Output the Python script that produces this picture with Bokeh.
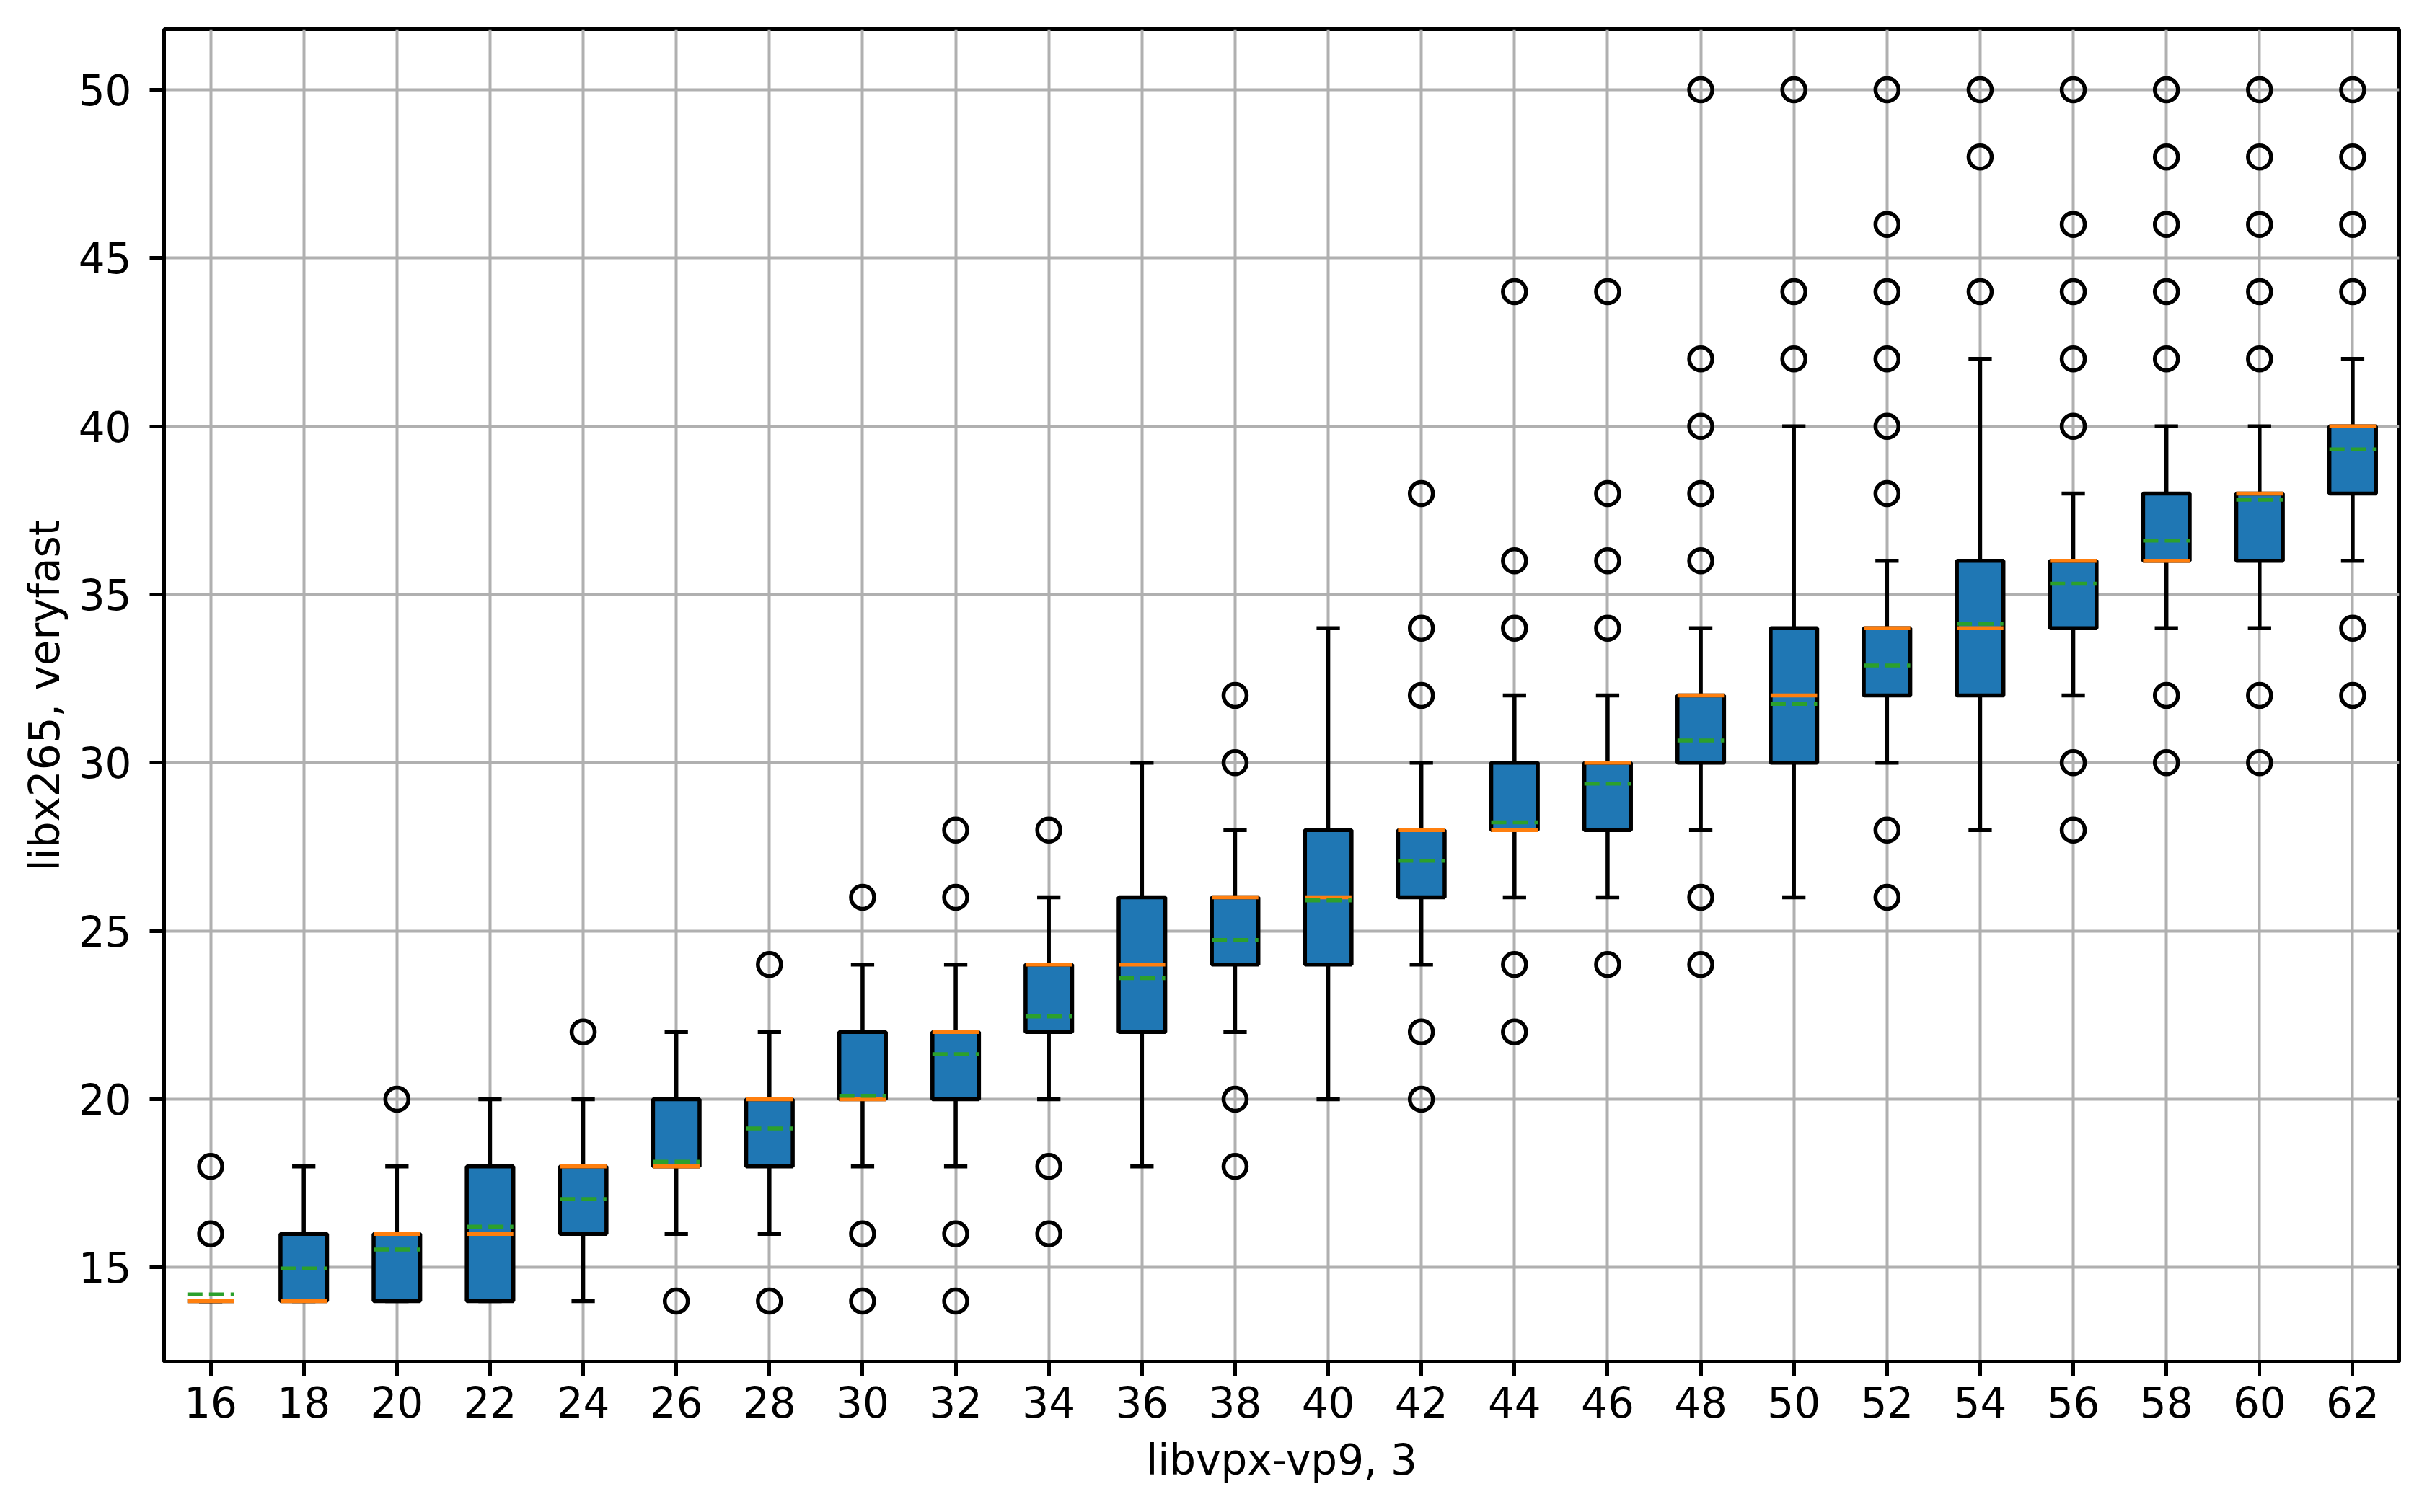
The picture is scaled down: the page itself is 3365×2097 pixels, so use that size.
from bokeh.plotting import figure
from bokeh.models import FixedTicker
from bokeh.embed import file_html
from bokeh.resources import INLINE

# ---- data ----
cats = [16, 18, 20, 22, 24, 26, 28, 30, 32, 34, 36, 38,
        40, 42, 44, 46, 48, 50, 52, 54, 56, 58, 60, 62]
q1 = [14, 14, 14, 14, 16, 18, 18, 20, 20, 22, 22, 24,
      24, 26, 28, 28, 30, 30, 32, 32, 34, 36, 36, 38]
medians = [14, 14, 16, 16, 18, 18, 20, 20, 22, 24, 24, 26,
           26, 28, 28, 30, 32, 32, 34, 34, 36, 36, 38, 40]
q3 = [14, 16, 16, 18, 18, 20, 20, 22, 22, 24, 26, 26,
      28, 28, 30, 30, 32, 34, 34, 36, 36, 38, 38, 40]
whisker_low = [14, 14, 14, 14, 14, 16, 16, 18, 18, 20, 18, 22,
               20, 24, 26, 26, 28, 26, 30, 28, 32, 34, 34, 36]
whisker_high = [14, 18, 18, 20, 20, 22, 22, 24, 24, 26, 30, 28,
                34, 30, 32, 32, 34, 40, 36, 42, 38, 40, 40, 42]
means = [14.2, 14.97, 15.53, 16.21, 17.03, 18.14, 19.13, 20.1, 21.34, 22.46, 23.6, 24.73,
         25.91, 27.09, 28.23, 29.38, 30.66, 31.75, 32.89, 34.13, 35.32, 36.6, 37.82, 39.31]
outliers = [
    [16, 18], [], [20], [], [22], [14], [14, 24], [14, 16, 26],
    [14, 16, 26, 28], [16, 18, 28], [], [18, 20, 30, 32],
    [], [20, 22, 32, 34, 38], [22, 24, 34, 36, 44], [24, 34, 36, 38, 44],
    [24, 26, 36, 38, 40, 42, 50], [42, 44, 50], [26, 28, 38, 40, 42, 44, 46, 50], [44, 48, 50],
    [28, 30, 40, 42, 44, 46, 50], [30, 32, 42, 44, 46, 48, 50], [30, 32, 42, 44, 46, 48, 50],
    [32, 34, 44, 46, 48, 50],
]
y_ticks = [15, 20, 25, 30, 35, 40, 45, 50]
x_label = "libvpx-vp9, 3"
y_label = "libx265, veryfast"

# ---- derived geometry ----
box_half = 0.5
cap_half = 0.25
box_l = [c - box_half for c in cats]
box_r = [c + box_half for c in cats]
cap_l = [c - cap_half for c in cats]
cap_r = [c + cap_half for c in cats]
fx = [c for c, outs in zip(cats, outliers) for _ in outs]
fy = [v for outs in outliers for v in outs]

LW = 5.5
FONT = "DejaVu Sans"

p = figure(width=3365, height=2097, output_backend="svg", toolbar_location=None,
           x_range=(cats[0] - 1, cats[-1] + 1), y_range=(12.2, 51.8),
           min_border_left=227, min_border_right=39,
           min_border_top=40, min_border_bottom=209)
p.background_fill_color = "white"
p.border_fill_color = "white"
p.outline_line_color = "black"
p.outline_line_width = 5
p.outline_line_alpha = 1.0

# whiskers
p.segment(x0=cats, y0=q3, x1=cats, y1=whisker_high, line_color="black", line_width=LW)
p.segment(x0=cats, y0=q1, x1=cats, y1=whisker_low, line_color="black", line_width=LW)
# caps
p.segment(x0=cap_l, y0=whisker_high, x1=cap_r, y1=whisker_high, line_color="black", line_width=LW)
p.segment(x0=cap_l, y0=whisker_low, x1=cap_r, y1=whisker_low, line_color="black", line_width=LW)
# boxes
p.quad(left=box_l, right=box_r, bottom=q1, top=q3,
       fill_color="#1f77b4", line_color="black", line_width=LW)
# medians
p.segment(x0=box_l, y0=medians, x1=box_r, y1=medians, line_color="#ff7f0e", line_width=LW)
# fliers
p.scatter(x=fx, y=fy, marker="circle", size=32, fill_color=None,
          line_color="black", line_width=5.5)
# means
p.segment(x0=box_l, y0=means, x1=box_r, y1=means, line_color="#2ca02c",
          line_width=LW, line_dash="21 9")

# axes
p.xaxis.ticker = FixedTicker(ticks=cats)
p.yaxis.ticker = FixedTicker(ticks=y_ticks)
for ax in (p.xaxis, p.yaxis):
    ax.axis_line_color = "black"
    ax.axis_line_width = 5
    ax.major_tick_out = 20
    ax.major_tick_in = 0
    ax.major_tick_line_width = 5
    ax.major_tick_line_color = "black"
    ax.minor_tick_line_color = None
    ax.major_label_text_font = FONT
    ax.major_label_text_font_size = "58px"
    ax.major_label_text_color = "black"
    ax.axis_label_text_font = FONT
    ax.axis_label_text_font_size = "58px"
    ax.axis_label_text_font_style = "normal"
    ax.axis_label_text_color = "black"
p.xaxis.major_label_standoff = 14
p.yaxis.major_label_standoff = 25
p.xaxis.axis_label = x_label
p.yaxis.axis_label = y_label
p.xaxis.axis_label_standoff = 22
p.yaxis.axis_label_standoff = 10

p.xgrid.grid_line_color = "#b0b0b0"
p.ygrid.grid_line_color = "#b0b0b0"
p.xgrid.grid_line_width = 4
p.ygrid.grid_line_width = 4

open("out.html", "w").write(file_html(p, INLINE))
